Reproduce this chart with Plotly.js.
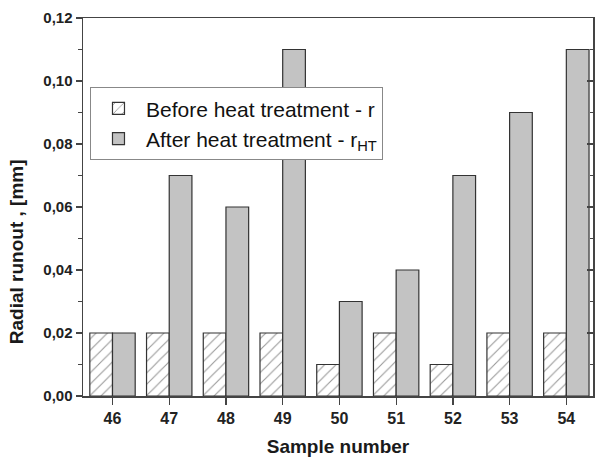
<!DOCTYPE html>
<html>
<head>
<meta charset="utf-8">
<script src="https://cdn.plot.ly/plotly-3.0.1.min.js"></script>
<style>html,body{margin:0;padding:0;background:#fff}#chart{width:595px;height:461px}</style>
</head>
<body>
<div id="chart"></div>
<script>
const samples = ['46','47','48','49','50','51','52','53','54'];
const before = [0.02, 0.02, 0.02, 0.02, 0.01, 0.02, 0.01, 0.02, 0.02];
const after  = [0.02, 0.07, 0.06, 0.11, 0.03, 0.04, 0.07, 0.09, 0.11];
const seriesNames = ['Before heat treatment - r', 'After heat treatment - r<sub>HT</sub>'];
const yTitle = 'Radial runout , [mm]';
const xTitle = 'Sample number';

const FONT = 'Liberation Sans, Arial, sans-serif';
const edge = '#333333';

const traces = [
  {
    type: 'bar', x: samples, y: before, name: seriesNames[0],
    marker: {
      color: '#ffffff',
      pattern: {shape: '/', fgcolor: '#333333', bgcolor: '#ffffff', size: 8, solidity: 0.14, fillmode: 'overlay'},
      line: {color: edge, width: 1.2}
    }
  },
  {
    type: 'bar', x: samples, y: after, name: seriesNames[1],
    marker: {color: '#c3c3c3', line: {color: edge, width: 1.2}}
  },
  {
    type: 'bar', x: samples, y: after, yaxis: 'y2', showlegend: false, hoverinfo: 'skip',
    marker: {color: 'rgba(0,0,0,0)', line: {width: 0}}
  }
];

const layout = {
  width: 595, height: 461,
  margin: {l: 83, r: 2, t: 18, b: 65},
  paper_bgcolor: '#ffffff', plot_bgcolor: '#ffffff',
  separators: ', ',
  barmode: 'group', bargap: 0.2, bargroupgap: 0,
  showlegend: true,
  font: {family: FONT, color: '#222222'},
  xaxis: {
    type: 'category', range: [-0.52, 8.47],
    showline: true, linecolor: '#444', linewidth: 1.5, mirror: true,
    ticks: 'outside', ticklen: 7, tickwidth: 1.3, tickcolor: '#444',
    showgrid: false, zeroline: false,
    tickfont: {family: FONT, size: 16, weight: 'bold', color: '#222'},
    title: {text: xTitle, font: {family: FONT, size: 19, weight: 'bold', color: '#1a1a1a'}, standoff: 14}
  },
  yaxis: {
    range: [0, 0.12], dtick: 0.02, tick0: 0, tickformat: '.2f',
    showline: true, linecolor: '#444', linewidth: 1.5, mirror: true,
    ticks: 'outside', ticklen: 6, tickwidth: 1.3, tickcolor: '#444',
    minor: {dtick: 0.01, ticks: 'outside', ticklen: 3.5, tickwidth: 1.2, tickcolor: '#444', showgrid: false},
    showgrid: false, zeroline: false,
    tickfont: {family: FONT, size: 15, weight: 'bold', color: '#222'}
  },
  yaxis2: {
    overlaying: 'y', side: 'right', anchor: 'x',
    range: [0, 0.12], dtick: 0.02, tick0: 0,
    showticklabels: false, showgrid: false, zeroline: false, showline: false,
    ticks: 'inside', ticklen: 6, tickwidth: 1.3, tickcolor: '#444',
    minor: {dtick: 0.01, ticks: 'inside', ticklen: 3.5, tickwidth: 1.2, tickcolor: '#444', showgrid: false}
  },
  legend: {
    x: 0.0137, y: 0.817, xanchor: 'left', yanchor: 'top',
    bgcolor: '#ffffff', bordercolor: '#888888', borderwidth: 1,
    font: {family: FONT, size: 21, color: '#111111'},
    itemwidth: 45, tracegroupgap: 0
  },
  annotations: [{
    text: yTitle, textangle: -90, showarrow: false,
    xref: 'paper', yref: 'paper', x: -0.129, y: 0.381,
    xanchor: 'center', yanchor: 'middle',
    font: {family: FONT, size: 19, weight: 'bold', color: '#1a1a1a'}
  }]
};

Plotly.newPlot('chart', traces, layout, {displayModeBar: false, staticPlot: true});
</script>
</body>
</html>
